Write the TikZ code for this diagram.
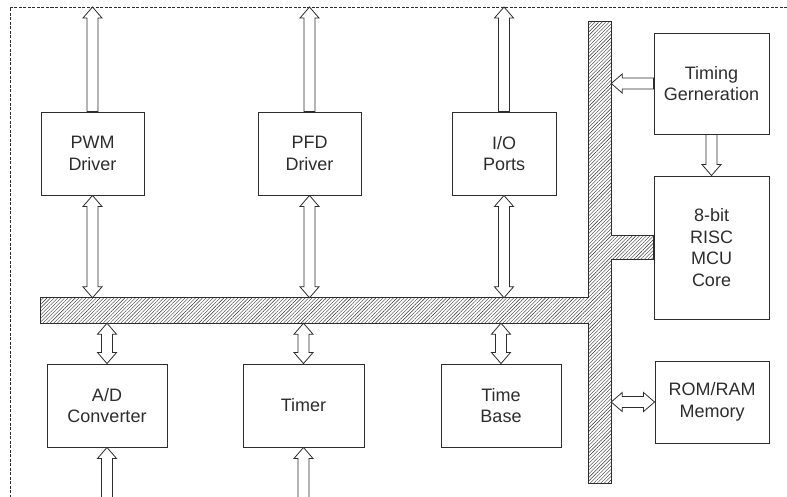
\documentclass[tikz,border=0pt]{standalone}
\usepackage{fontspec}
\setmainfont{Liberation Sans}
\usetikzlibrary{calc, patterns.meta}
\definecolor{linecolor}{RGB}{45,45,45}

\begin{document}
\begin{tikzpicture}[
    x=1pt, y=-1pt,
    box/.style={draw=linecolor, line width=0.9pt, inner sep=0pt, align=center,
                font=\fontsize{18}{21.5}\selectfont, text=linecolor},
    bus/.style={draw=linecolor, line width=1.1pt, pattern color=linecolor,
                pattern={Lines[angle=45, distance=2.5pt, line width=0.4pt]}},
    frame/.style={draw=linecolor, line width=0.8pt, dash pattern=on 3pt off 1.5pt},
    oneway/.style={draw=linecolor, fill=white, line width=0.8pt, to path={
        -- ($(\tikztostart)!5.5pt!90:(\tikztotarget)$)
        -- ($(\tikztotarget)!11pt!(\tikztostart)!5.5pt!-90:(\tikztostart)$)
        -- ($(\tikztotarget)!11pt!(\tikztostart)!9.5pt!-90:(\tikztostart)$)
        -- (\tikztotarget)
        -- ($(\tikztotarget)!11pt!(\tikztostart)!9.5pt!90:(\tikztostart)$)
        -- ($(\tikztotarget)!11pt!(\tikztostart)!5.5pt!90:(\tikztostart)$)
        -- ($(\tikztostart)!5.5pt!-90:(\tikztotarget)$) -- cycle}},
    twoway/.style={draw=linecolor, fill=white, line width=0.8pt, to path={
        -- ($(\tikztostart)!11pt!(\tikztotarget)!9.5pt!90:(\tikztotarget)$)
        -- ($(\tikztostart)!11pt!(\tikztotarget)!5.5pt!90:(\tikztotarget)$)
        -- ($(\tikztotarget)!11pt!(\tikztostart)!5.5pt!-90:(\tikztostart)$)
        -- ($(\tikztotarget)!11pt!(\tikztostart)!9.5pt!-90:(\tikztostart)$)
        -- (\tikztotarget)
        -- ($(\tikztotarget)!11pt!(\tikztostart)!9.5pt!90:(\tikztostart)$)
        -- ($(\tikztotarget)!11pt!(\tikztostart)!5.5pt!90:(\tikztostart)$)
        -- ($(\tikztostart)!11pt!(\tikztotarget)!5.5pt!-90:(\tikztotarget)$)
        -- ($(\tikztostart)!11pt!(\tikztotarget)!9.5pt!-90:(\tikztotarget)$)
        -- cycle}}
  ]
    \useasboundingbox (0,0) rectangle (787,497);

    %% Frame (open to the right and bottom)
    \coordinate (fcorner) at (10,7);
    \coordinate (fright)  at (787,7);
    \coordinate (fbottom) at (10,500);
    \draw[frame] (fright) -- (fcorner) -- (fbottom);

    %% Blocks
    \node[box, minimum width=103, minimum height=83] (pwm) at (92.5,153.5) {PWM\\Driver};
    \node[box, minimum width=103, minimum height=83] (pfd) at (309.5,153.5) {PFD\\Driver};
    \node[box, minimum width=104, minimum height=83] (io)  at (504,153.5) {I/O\\Ports};
    \node[box, minimum width=120, minimum height=83] (ad)  at (107,405.5) {A/D\\Converter};
    \node[box, minimum width=121, minimum height=83] (tmr) at (303.5,405.5) {Timer};
    \node[box, minimum width=120, minimum height=83] (tb)  at (501,405.5) {Time\\Base};
    \node[box, minimum width=115, minimum height=101] (tg) at (711.5,83.5) {Timing\\Gerneration};
    \node[box, minimum width=115, minimum height=143] (mcu) at (711.5,247.5) {8-bit\\RISC\\MCU\\Core};
    \node[box, minimum width=114, minimum height=82] (mem) at (712,402) {ROM/RAM\\Memory};

    %% Bus outline
    \node[minimum width=548, minimum height=25, inner sep=0pt] (hbus) at (315,310.5) {};
    \node[minimum width=22, minimum height=461, inner sep=0pt] (vbus) at (600,252.5) {};
    \coordinate (brtop) at ($(mcu.west)+(0,-12)$);
    \coordinate (brbot) at ($(mcu.west)+(0,12)$);
    \draw[bus] (vbus.north west) -- (vbus.north east) -- (vbus.east |- brtop) -- (brtop)
      -- (brbot) -- (vbus.east |- brbot) -- (vbus.south east) -- (vbus.south west)
      -- (vbus.west |- hbus.south) -- (hbus.south west) -- (hbus.north west)
      -- (vbus.west |- hbus.north) -- cycle;

    %% Outputs to the top
    \draw[oneway] (pwm.north) to (pwm.north |- fcorner);
    \draw[oneway] (pfd.north) to (pfd.north |- fcorner);
    \draw[oneway] (io.north)  to (io.north |- fcorner);

    %% Upper row to bus
    \draw[twoway] (pwm.south) to (pwm.south |- hbus.north);
    \draw[twoway] (pfd.south) to (pfd.south |- hbus.north);
    \draw[twoway] (io.south)  to (io.south |- hbus.north);

    %% Lower row to bus
    \draw[twoway] (ad.north |- hbus.south)  to (ad.north);
    \draw[twoway] (tmr.north |- hbus.south) to (tmr.north);
    \draw[twoway] (tb.north |- hbus.south)  to (tb.north);

    %% Inputs from the bottom
    \draw[oneway] (ad.south |- fbottom)  to (ad.south);
    \draw[oneway] (tmr.south |- fbottom) to (tmr.south);

    %% Right column
    \draw[oneway] (tg.west) to (tg.west -| vbus.east);
    \draw[oneway] (tg.south) to (mcu.north);
    \draw[twoway] (mem.west) to (mem.west -| vbus.east);
\end{tikzpicture}
\end{document}
